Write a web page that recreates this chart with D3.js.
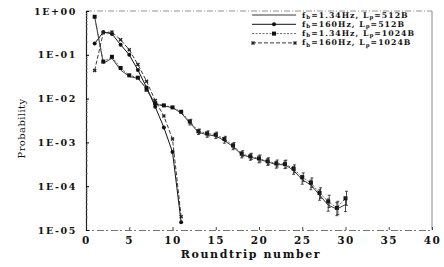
<!DOCTYPE html>
<html>
<head>
<meta charset="utf-8">
<script src="https://cdn.jsdelivr.net/npm/d3@7"></script>
<style>
  body { margin: 0; background: #fff; }
  text { font-family: "DejaVu Serif", "Liberation Serif", serif; fill: #111; }
</style>
</head>
<body>
<div id="chart"></div>
<script>
// data
const rounds = d3.range(1, 31);
const steepRounds = d3.range(1, 12);

// long tail curves
const s1 = [0.74, 0.064, 0.083, 0.045, 0.032, 0.029, 0.017, 0.0075, 0.0068, 0.0062,
  0.0047, 0.0028, 0.0017, 0.0015, 0.0014, 0.0011, 0.0008, 0.00052, 0.00046, 0.00041,
  0.00036, 0.00031, 0.00031, 0.00023, 0.00014, 0.000107, 0.000063, 0.000037, 0.00003, 0.000038];
const s3 = [0.74, 0.07, 0.09, 0.05, 0.034, 0.03, 0.016, 0.0078, 0.007, 0.0063,
  0.005, 0.003, 0.0018, 0.0016, 0.0015, 0.0012, 0.00085, 0.00055, 0.00048, 0.00043,
  0.00037, 0.00033, 0.00032, 0.00025, 0.00016, 0.00012, 0.00007, 0.000045, 0.000032, 0.000053];
// error bar half widths (decades) for the tail, rounds 12..30
const tailErr = [0.05, 0.05, 0.06, 0.06, 0.06, 0.07, 0.07, 0.07, 0.08, 0.08,
  0.08, 0.09, 0.09, 0.1, 0.11, 0.12, 0.14, 0.15, 0.16];

// steep curves
const s2 = [0.18, 0.33, 0.3, 0.17, 0.1, 0.045, 0.018, 0.0065, 0.0022, 0.0006, 0.000015];
const s4 = [0.044, 0.32, 0.33, 0.22, 0.13, 0.06, 0.025, 0.009, 0.004, 0.0012, 0.00002];

const yTicks = [1, 1e-1, 1e-2, 1e-3, 1e-4, 1e-5];
const yTickLabels = ["1E+00", "1E-01", "1E-02", "1E-03", "1E-04", "1E-05"];
const xTicks = [0, 5, 10, 15, 20, 25, 30, 35, 40];

const W = 444, H = 267;
const margin = {top: 11, right: 12, bottom: 37, left: 86};

const svg = d3.select("#chart").append("svg")
  .attr("width", W).attr("height", H);

const x = d3.scaleLinear().domain([0, 40]).range([margin.left, W - margin.right]);
const y = d3.scaleLog().domain([1e-5, 1]).range([H - margin.bottom, margin.top]);

// frame: top dotted, right grey, bottom dashed
svg.append("line")
  .attr("x1", x(0)).attr("x2", x(40)).attr("y1", y(1)).attr("y2", y(1))
  .attr("stroke", "#777").attr("stroke-dasharray", "6,2,1,2").attr("stroke-width", 0.8);
svg.append("line")
  .attr("x1", x(40)).attr("x2", x(40)).attr("y1", y(1)).attr("y2", y(1e-5))
  .attr("stroke", "#888").attr("stroke-width", 1);

// bottom axis
const xAxis = svg.append("g")
  .attr("transform", `translate(0,${y(1e-5)})`)
  .call(d3.axisBottom(x).tickValues(xTicks).tickSize(-3).tickPadding(7));
xAxis.select(".domain").attr("stroke", "#777").attr("stroke-dasharray", "7,2,2,3");
xAxis.selectAll(".tick line").attr("stroke", "#444");
xAxis.selectAll("text")
  .style("font-size", "10.5px").style("font-weight", "bold").style("letter-spacing", "1.5px")
  .attr("fill", "#111");

// left axis
const yAxis = svg.append("g")
  .attr("transform", `translate(${x(0)},0)`)
  .call(d3.axisLeft(y).tickValues(yTicks).tickSize(-3).tickPadding(9)
    .tickFormat((d, i) => yTickLabels[i]));
yAxis.select(".domain").attr("stroke", "#222").attr("stroke-width", 1.2);
yAxis.selectAll("text")
  .style("font-size", "9.5px").style("font-weight", "bold").style("letter-spacing", "1.6px")
  .attr("fill", "#111");

// minor ticks on the log axis
const minor = [];
yTicks.slice(1).forEach(d => { for (let k = 2; k < 10; k++) minor.push(d * k); });
const yMinor = svg.append("g")
  .attr("transform", `translate(${x(0)},0)`)
  .call(d3.axisLeft(y).tickValues(minor).tickSize(-1.5).tickFormat(""));
yMinor.select(".domain").remove();
yMinor.selectAll(".tick line").attr("stroke", "#555");

// axis labels
svg.append("text")
  .attr("x", (x(0) + x(40)) / 2 - 8).attr("y", H - 9)
  .attr("text-anchor", "middle")
  .style("font-size", "11px").style("font-weight", "bold").style("letter-spacing", "1.6px")
  .text("Roundtrip number");

svg.append("text")
  .attr("transform", `translate(25,${(y(1) + y(1e-5)) / 2 + 8}) rotate(-90)`)
  .attr("text-anchor", "middle")
  .style("font-size", "10px").style("letter-spacing", "0.4px")
  .text("Probability");

// series
const series = [
  {name: "1.34Hz", lp: "512B", xs: rounds, ys: s1, color: "#222", width: 0.9, dash: null, mark: "none"},
  {name: "160Hz", lp: "512B", xs: steepRounds, ys: s2, color: "#111", width: 1, dash: null, mark: "circle"},
  {name: "1.34Hz", lp: "1024B", xs: rounds, ys: s3, color: "#555", width: 0.9, dash: "2,1.5", mark: "square"},
  {name: "160Hz", lp: "1024B", xs: steepRounds, ys: s4, color: "#222", width: 0.9, dash: "4,2", mark: "x"}
];

const line = d3.line().x(d => x(d[0])).y(d => y(d[1]));

function drawMark(g, m, cx, cy, color) {
  if (m === "circle") {
    g.append("circle").attr("cx", cx).attr("cy", cy).attr("r", 2).attr("fill", color);
  } else if (m === "square") {
    g.append("rect").attr("x", cx - 2).attr("y", cy - 2).attr("width", 4).attr("height", 4).attr("fill", "#111");
  } else if (m === "x") {
    g.append("path").attr("transform", `translate(${cx},${cy}) rotate(45)`)
      .attr("d", d3.symbol(d3.symbolCross, 10)())
      .attr("fill", color);
  }
}

series.forEach(s => {
  const pts = s.xs.map((r, i) => [r, s.ys[i]]);
  svg.append("path")
    .datum(pts)
    .attr("fill", "none")
    .attr("stroke", s.color)
    .attr("stroke-width", s.width)
    .attr("stroke-dasharray", s.dash)
    .attr("d", line);
  const g = svg.append("g");
  pts.forEach(p => drawMark(g, s.mark, x(p[0]), y(p[1]), s.color));
});

// error bars on the tail
[s1, s3].forEach((ys, k) => {
  const g = svg.append("g").attr("stroke", "#222").attr("stroke-width", 0.8);
  tailErr.forEach((e, i) => {
    const r = 12 + i;
    const v = ys[r - 1];
    const cx = x(r) + (k ? 1 : 0);
    const hi = y(v * Math.pow(10, e)), lo = y(v / Math.pow(10, e));
    g.append("line").attr("x1", cx).attr("x2", cx).attr("y1", hi).attr("y2", lo);
    g.append("line").attr("x1", cx - 1.5).attr("x2", cx + 1.5).attr("y1", hi).attr("y2", hi);
    g.append("line").attr("x1", cx - 1.5).attr("x2", cx + 1.5).attr("y1", lo).attr("y2", lo);
  });
});

// legend
const legend = svg.append("g");
series.forEach((s, i) => {
  const ly = 15 + i * 9.3;
  legend.append("line")
    .attr("x1", 252).attr("x2", 296).attr("y1", ly).attr("y2", ly)
    .attr("stroke", s.color).attr("stroke-width", s.width)
    .attr("stroke-dasharray", s.dash);
  if (s.mark === "circle") drawMark(legend, s.mark, 274, ly, s.color);
  if (s.mark === "x") { drawMark(legend, s.mark, 253, ly, s.color); drawMark(legend, s.mark, 295, ly, s.color); }
  if (s.mark === "square") drawMark(legend, s.mark, 274, ly, s.color);
  const t = legend.append("text")
    .attr("x", 302).attr("y", ly + 2.5)
    .style("font-size", "7.8px").style("font-weight", "bold").style("letter-spacing", "1px");
  t.append("tspan").text("f");
  t.append("tspan").attr("dy", 1.2).style("font-size", "5.5px").text("b");
  t.append("tspan").attr("dy", -1.2).text("=" + s.name + ", L");
  t.append("tspan").attr("dy", 1.2).style("font-size", "5.5px").text("p");
  t.append("tspan").attr("dy", -1.2).text("=" + s.lp);
});
</script>
</body>
</html>
